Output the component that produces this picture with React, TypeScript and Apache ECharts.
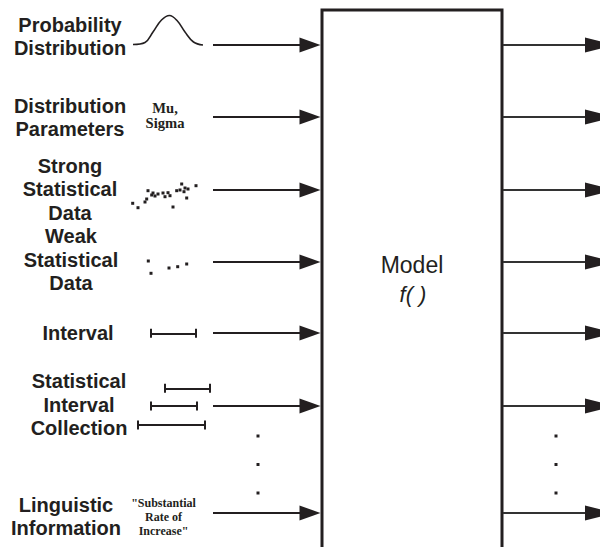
import React, { useEffect, useRef } from "react";
import * as echarts from "echarts";

// ---- content ----
const inputRowsY = [45, 117, 190, 262, 333, 406, 513];
const outputRowsY = [45, 117, 190, 262, 333, 406, 513];

const inputLabels: string[][] = [
  ["Probability", "Distribution"],
  ["Distribution", "Parameters"],
  ["Strong", "Statistical", "Data"],
  ["Weak", "Statistical", "Data"],
  ["Interval"],
  ["Statistical", "Interval", "Collection"],
  ["Linguistic", "Information"],
];
const labelCenterX = [70, 70, 70, 71, 78, 79, 66];
const labelFirstBaseline = [31.7, 112.7, 172.7, 243.3, 340, 388.3, 511.7];

const paramText = ["Mu,", "Sigma"];
const linguisticText = ['"Substantial', "Rate of", 'Increase"'];
const modelTitle = "Model";
const modelFunc = "f( )";

// icon: bell curve (x, y)
const bellCurve = [
  [133, 44.5], [145, 42.5], [153, 32], [161.5, 20], [169.5, 15.5],
  [177, 20.5], [185, 32], [193.5, 42], [203, 45],
];

// icon: strong statistical data points
const strongData = [
  [132.7, 203.3], [138, 207.7], [145, 202], [146.7, 199], [148, 190.7],
  [151.7, 195], [153, 193], [155, 196], [158, 194], [163, 193],
  [165, 196.7], [168, 192.7], [170, 195.7], [173, 207], [176.7, 190.7],
  [180, 190], [181.7, 184], [184, 191.7], [185, 188], [186.7, 198],
  [188, 189], [196, 185.7],
];

// icon: weak statistical data points
const weakData = [
  [148.3, 261], [151, 273.3], [169, 268], [177.7, 266.7], [186.7, 264],
];

// icon: intervals [start, end, y]
const singleInterval = [[151, 196, 333.3]];
const intervalCollection = [
  [164.3, 209.3, 388.3],
  [150.7, 196.7, 406],
  [137.3, 205, 425],
];

const ellipsisLeft = [[258, 436], [258, 464.5], [258, 493]];
const ellipsisRight = [[556, 436], [556, 464.5], [556, 493]];

const INK = "#231f20";

export default function App() {
  const ref = useRef<HTMLDivElement>(null);

  useEffect(() => {
    document.body.style.margin = "0";
    if (!ref.current) return;
    const chart = echarts.init(ref.current, undefined, { renderer: "svg" });

    const intervalSegments: any[] = [];
    [...singleInterval, ...intervalCollection].forEach(([x0, x1, y]) => {
      intervalSegments.push({ coords: [[x0, y], [x1, y]] });
      intervalSegments.push({ coords: [[x0, y - 4.5], [x0, y + 4.5]] });
      intervalSegments.push({ coords: [[x1, y - 4.5], [x1, y + 4.5]] });
    });

    const graphics: any[] = [];
    inputLabels.forEach((lines, i) => {
      lines.forEach((t, j) => {
        graphics.push({
          type: "text",
          x: labelCenterX[i],
          y: labelFirstBaseline[i] + j * 23.5 - 7,
          silent: true,
          style: {
            text: t,
            fill: INK,
            font: 'bold 20px "Liberation Sans", Arial, sans-serif',
            align: "center",
            verticalAlign: "middle",
          },
        });
      });
    });
    paramText.forEach((t, j) => {
      graphics.push({
        type: "text",
        x: 165,
        y: 112.8 + j * 15.4 - 4.8,
        silent: true,
        style: {
          text: t,
          fill: INK,
          font: 'bold 14.6px "Liberation Serif", "Times New Roman", serif',
          align: "center",
          verticalAlign: "middle",
        },
      });
    });
    linguisticText.forEach((t, j) => {
      graphics.push({
        type: "text",
        x: 163.5,
        y: 506.7 + j * 14.2 - 4,
        silent: true,
        style: {
          text: t,
          fill: INK,
          font: 'bold 12px "Liberation Serif", "Times New Roman", serif',
          align: "center",
          verticalAlign: "middle",
        },
      });
    });
    graphics.push({
      type: "text",
      x: 412,
      y: 273 - 8,
      silent: true,
      style: {
        text: modelTitle,
        fill: INK,
        font: '23px "Liberation Sans", Arial, sans-serif',
        align: "center",
        verticalAlign: "middle",
      },
    });
    graphics.push({
      type: "text",
      x: 413,
      y: 302 - 7.5,
      silent: true,
      style: {
        text: modelFunc,
        fill: INK,
        font: 'italic 22px "Liberation Sans", Arial, sans-serif',
        align: "center",
        verticalAlign: "middle",
      },
    });

    chart.setOption({
      animation: false,
      backgroundColor: "#ffffff",
      grid: { left: 0, right: 0, top: 0, bottom: 0 },
      xAxis: { type: "value", min: 0, max: 600, show: false },
      yAxis: { type: "value", min: 0, max: 547, inverse: true, show: false },
      graphic: graphics,
      series: [
        {
          type: "lines",
          coordinateSystem: "cartesian2d",
          polyline: true,
          silent: true,
          clip: false,
          lineStyle: { color: INK, width: 3, opacity: 1, curveness: 0 },
          data: [{ coords: [[322, 552], [322, 10], [502, 10], [502, 552]] }],
        },
        {
          type: "lines",
          coordinateSystem: "cartesian2d",
          silent: true,
          lineStyle: { color: INK, width: 2, opacity: 1, curveness: 0 },
          data: inputRowsY.map((y) => ({ coords: [[213, y], [302, y]] })),
        },
        {
          type: "lines",
          coordinateSystem: "cartesian2d",
          silent: true,
          lineStyle: { color: "#333", width: 1.8, opacity: 1, curveness: 0 },
          data: outputRowsY.map((y) => ({ coords: [[503, y], [590, y]] })),
        },
        {
          type: "scatter",
          silent: true,
          symbol: "triangle",
          symbolSize: [15, 21],
          symbolRotate: -90,
          itemStyle: { color: INK, opacity: 1 },
          data: inputRowsY.map((y) => [310, y]),
        },
        {
          type: "scatter",
          silent: true,
          clip: false,
          symbol: "triangle",
          symbolSize: [15, 30],
          symbolRotate: -90,
          itemStyle: { color: INK, opacity: 1 },
          data: outputRowsY.map((y) => [600, y]),
        },
        {
          type: "line",
          silent: true,
          smooth: 0.4,
          showSymbol: false,
          symbol: "none",
          lineStyle: { color: INK, width: 1.6 },
          data: bellCurve,
        },
        {
          type: "lines",
          coordinateSystem: "cartesian2d",
          silent: true,
          lineStyle: { color: INK, width: 2, opacity: 1, curveness: 0 },
          data: intervalSegments,
        },
        {
          type: "scatter",
          silent: true,
          symbol: "rect",
          symbolSize: 3,
          itemStyle: { color: INK, opacity: 1 },
          data: [...strongData, ...weakData, ...ellipsisLeft, ...ellipsisRight],
        },
      ],
    });

    return () => chart.dispose();
  }, []);

  return <div ref={ref} style={{ width: 600, height: 547 }} />;
}
